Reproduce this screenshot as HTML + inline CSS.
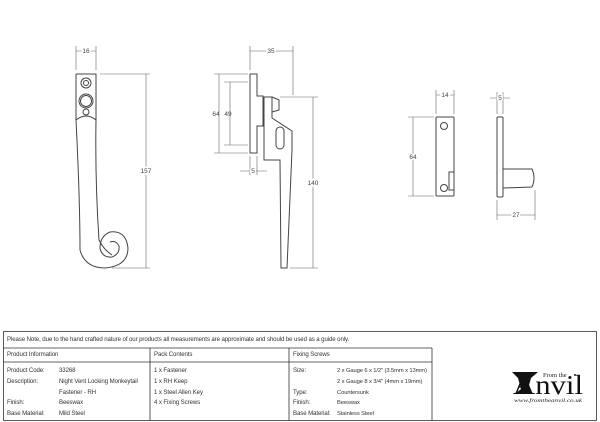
<!DOCTYPE html>
<html><head><meta charset="utf-8"><style>
html,body{margin:0;padding:0;background:#fff}
body{width:600px;height:422px;position:relative;overflow:hidden;font-family:"Liberation Sans",sans-serif;color:#333}
svg{position:absolute;left:0;top:0}
.t{position:absolute;font-size:6.1px;white-space:nowrap;line-height:1;letter-spacing:-0.1px}
</style></head><body>
<svg width="600" height="422" viewBox="0 0 600 422">
<g fill="none" stroke="#444" stroke-width="1">
<path d="M76,74 L96,74 L96,120 Q95,180 99,240 Q104,250 112,255 M76,74 L76,120 Q80,200 80,250 Q85,268 105,268 Q128,266 128,248 Q126,230 110,232 Q100,236 100,248 Q102,258 112,257 Q120,254 119,246 Q116,240 110,242"/>
<path d="M76,120 Q86,112 96,120"/>
<circle cx="86" cy="83" r="5"/><circle cx="86" cy="83" r="2.5"/>
<circle cx="86" cy="101" r="7"/><circle cx="86" cy="101" r="5.5"/>
<circle cx="86" cy="112" r="3"/>
<path d="M250,74 L257,74 L257,96 L263,96 L263,126 L257,126 L257,153 L250,153 Z"/>
<path d="M264,97 L272,97 L272,118 L292,131 L292,150 L287,268 L281,268 L280,160 L264,160 Z"/>
<path d="M272,97 L279,100 L279,110 L272,112"/>
<rect x="276" y="127" width="8" height="22" rx="4"/>
<rect x="436" y="117" width="18" height="79" rx="1"/>
<circle cx="444" cy="126" r="3.5"/><circle cx="444" cy="188" r="3.5"/>
<path d="M449,172 L454,172 L454,190 L449,190 Z"/>
<rect x="497" y="117" width="6" height="80" rx="1"/>
<path d="M503,169 L532,169 Q536,178 532,187 L503,188"/>
</g>
<g stroke="#666" stroke-width="0.6" fill="none">
<path d="M76,46 V70 M96,46 V70 M76,51 H96"/>
<path d="M100,74 H150 M146,74 V268 M112,268 H150"/>
<path d="M250,46 V70 M293,46 V95 M250,51 H293"/>
<path d="M280,97 H318 M313,97 V268 M290,268 H318"/>
<path d="M214,74 H248 M219,74 V153 M214,153 H248 M224,82 H248 M230,82 V145 M224,145 H248"/>
<path d="M250,156 V175 M257,156 V175 M240,171 H267"/>
<path d="M436,90 V114 M454,90 V114 M436,95 H454"/>
<path d="M497,92 V114 M503,92 V114 M490,98 H510"/>
<path d="M408,117 H434 M413,117 V196 M408,196 H434"/>
<path d="M497,200 V220 M535,190 V220 M497,215 H535"/>
</g>
<g stroke="#333" stroke-width="0.8" fill="none">
<rect x="3.5" y="331.5" width="593" height="89"/>
<path d="M3.5,348 H432 M3.5,362 H432 M150,348 V421 M289,348 V421 M432,348 V421"/>
</g>
<g font-family="Liberation Sans,sans-serif" font-size="6.5" fill="#444" text-anchor="middle">
<text x="86" y="53" style="paint-order:stroke" stroke="#fff" stroke-width="3">16</text>
<text x="146" y="173" stroke="#fff" stroke-width="4" style="paint-order:stroke">157</text>
<text x="271" y="53" stroke="#fff" stroke-width="3" style="paint-order:stroke">35</text>
<text x="313" y="185" stroke="#fff" stroke-width="4" style="paint-order:stroke">140</text>
<text x="216" y="116">64</text><text x="228" y="116">49</text>
<text x="253" y="173" stroke="#fff" stroke-width="3" style="paint-order:stroke">5</text>
<text x="445" y="97" stroke="#fff" stroke-width="3" style="paint-order:stroke">14</text>
<text x="500" y="100" stroke="#fff" stroke-width="3" style="paint-order:stroke">5</text>
<text x="413" y="159" stroke="#fff" stroke-width="3" style="paint-order:stroke">64</text>
<text x="516" y="217" stroke="#fff" stroke-width="3" style="paint-order:stroke">27</text>
</g>
<g fill="#111">
<path d="M512,372 H538 L531,378 L528,389 L534,394 H515 L521,389 L518,378 Z"/>
</g>
<text x="513" y="394" font-family="Liberation Serif,serif" font-size="27" fill="#111" textLength="70" lengthAdjust="spacingAndGlyphs">Anvil</text>
<text x="543" y="377" font-family="Liberation Serif,serif" font-size="6.5" fill="#222">From the</text>
<circle cx="575" cy="375" r="1" fill="#222"/>
<text x="514" y="402" font-family="Liberation Serif,serif" font-size="5" font-style="italic" fill="#222" textLength="68" lengthAdjust="spacingAndGlyphs">www.fromtheanvil.co.uk</text>
</svg>
<div class="t" style="left:7px;top:337px">Please Note, due to the hand crafted nature of our products all measurements are approximate and should be used as a guide only.</div>
<div class="t" style="left:7px;top:352px">Product Information</div>
<div class="t" style="left:154px;top:352px">Pack Contents</div>
<div class="t" style="left:293px;top:352px">Fixing Screws</div>
<div class="t" style="left:7px;top:366px;line-height:10.8px">Product Code:<br>Description:<br><br>Finish:<br>Base Material:</div>
<div class="t" style="left:59px;top:366px;line-height:10.8px">33268<br>Night Vent Locking Monkeytail<br>Fastener - RH<br>Beeswax<br>Mild Steel</div>
<div class="t" style="left:154px;top:366px;line-height:10.8px">1 x Fastener<br>1 x RH Keep<br>1 x Steel Allen Key<br>4 x Fixing Screws</div>
<div class="t" style="left:293px;top:366px;line-height:10.8px">Size:<br><br>Type:<br>Finish:<br>Base Material:</div>
<div class="t" style="left:337px;top:366px;line-height:10.8px;font-size:5.8px">2 x Gauge 6 x 1/2" (3.5mm x 13mm)<br>2 x Gauge 8 x 3/4" (4mm x 19mm)<br>Countersunk<br>Beeswax<br>Stainless Steel</div>
</body></html>
